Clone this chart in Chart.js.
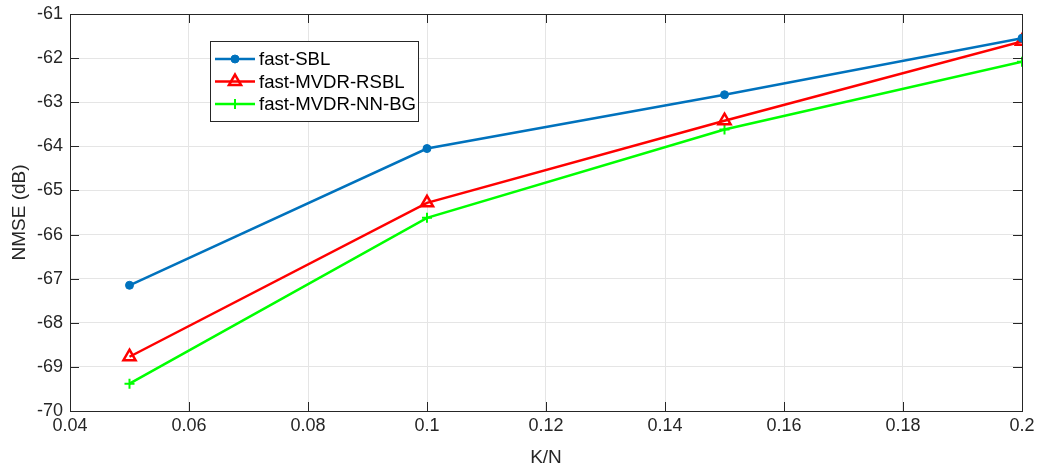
<!DOCTYPE html>
<html>
<head>
<meta charset="utf-8">
<script src="https://cdn.jsdelivr.net/npm/chart.js@4/dist/chart.umd.min.js"></script>
<style>
  html, body { margin: 0; padding: 0; background: #fff; }
  #wrap { width: 1039px; height: 469px; }
</style>
</head>
<body>
<div id="wrap"><canvas id="nmseChart" width="1039" height="469"></canvas></div>
<script>
  const kn = [0.05, 0.1, 0.15, 0.2];
  const fastSBL = [-67.15, -64.05, -62.83, -61.55];
  const fastMVDRRSBL = [-68.77, -65.28, -63.42, -61.62];
  const fastMVDRNNBG = [-69.38, -65.62, -63.62, -62.08];
  const xTicks = [0.04, 0.06, 0.08, 0.1, 0.12, 0.14, 0.16, 0.18, 0.2];
  const yTicks = [-70, -69, -68, -67, -66, -65, -64, -63, -62, -61];

  const FONT = "'Liberation Sans', Arial, Helvetica, sans-serif";
  const AXIS = "#262626";

  function pts(ys) {
    return kn.map((x, i) => ({ x: x, y: ys[i] }));
  }

  // box, inward ticks and legend drawn the MATLAB way
  const matlabFrame = {
    id: "matlabFrame",
    afterDatasetsDraw(chart) {
      const { ctx, chartArea: a, scales } = chart;
      ctx.save();
      ctx.strokeStyle = AXIS;
      ctx.lineWidth = 1;
      ctx.beginPath();
      xTicks.forEach((t) => {
        const px = Math.round(scales.x.getPixelForValue(t)) + 0.5;
        ctx.moveTo(px, a.bottom); ctx.lineTo(px, a.bottom - 9);
        ctx.moveTo(px, a.top); ctx.lineTo(px, a.top + 9);
      });
      yTicks.forEach((t) => {
        const py = Math.round(scales.y.getPixelForValue(t)) + 0.5;
        ctx.moveTo(a.left, py); ctx.lineTo(a.left + 9, py);
        ctx.moveTo(a.right, py); ctx.lineTo(a.right - 9, py);
      });
      ctx.stroke();
      ctx.strokeRect(Math.round(a.left) + 0.5, Math.round(a.top) + 0.5,
        Math.round(a.right - a.left), Math.round(a.bottom - a.top));

      // legend
      const lx = 210, ly = 41, lw = 208, lh = 80;
      ctx.fillStyle = "#fff";
      ctx.fillRect(lx, ly, lw, lh);
      ctx.strokeRect(lx + 0.5, ly + 0.5, lw, lh);
      ctx.font = "18.6px " + FONT;
      ctx.textBaseline = "middle";
      chart.data.datasets.forEach((ds, i) => {
        const y = ly + 18 + i * 22.5;
        ctx.strokeStyle = ds.borderColor;
        ctx.lineWidth = 2.5;
        ctx.beginPath();
        ctx.moveTo(lx + 5, y); ctx.lineTo(lx + 45, y);
        ctx.stroke();
        ctx.fillStyle = ds.pointBackgroundColor;
        ctx.strokeStyle = ds.borderColor;
        ctx.lineWidth = ds.pointBorderWidth;
        Chart.helpers.drawPoint(ctx, {
          pointStyle: ds.pointStyle,
          radius: ds.pointRadius,
          borderWidth: ds.pointBorderWidth,
          rotation: 0,
        }, lx + 25, y);
        ctx.fillStyle = "#000";
        ctx.fillText(ds.label, lx + 49, y + 1);
      });
      ctx.restore();
    },
  };

  new Chart(document.getElementById("nmseChart"), {
    type: "line",
    data: {
      datasets: [
        {
          label: "fast-SBL",
          data: pts(fastSBL),
          borderColor: "#0072BD",
          backgroundColor: "#0072BD",
          pointBackgroundColor: "#0072BD",
          pointStyle: "circle",
          pointRadius: 4,
          pointBorderWidth: 1,
          borderWidth: 2.5,
        },
        {
          label: "fast-MVDR-RSBL",
          data: pts(fastMVDRRSBL),
          borderColor: "#FF0000",
          backgroundColor: "#FF0000",
          pointBackgroundColor: "rgba(255,255,255,0)",
          pointStyle: "triangle",
          pointRadius: 7,
          pointBorderWidth: 2.5,
          borderWidth: 2.5,
        },
        {
          label: "fast-MVDR-NN-BG",
          data: pts(fastMVDRNNBG),
          borderColor: "#00FF00",
          backgroundColor: "#00FF00",
          pointBackgroundColor: "#00FF00",
          pointStyle: "cross",
          pointRadius: 5,
          pointBorderWidth: 2,
          borderWidth: 2.5,
        },
      ],
    },
    options: {
      responsive: false,
      animation: false,
      layout: { padding: { top: 14, right: 17, left: 0, bottom: 0 } },
      plugins: {
        legend: { display: false },
        tooltip: { enabled: false },
      },
      scales: {
        x: {
          type: "linear",
          min: 0.04,
          max: 0.2,
          afterBuildTicks: (s) => { s.ticks = xTicks.map((v) => ({ value: v })); },
          afterFit: (s) => { s.height = 58; s.paddingLeft = 0; s.paddingRight = 0; },
          ticks: {
            callback: (v) => String(Math.round(v * 100) / 100),
            color: AXIS,
            font: { family: FONT, size: 18 },
            padding: 4,
            maxRotation: 0,
          },
          grid: { color: "#e5e5e5", drawTicks: false },
          border: { display: false },
          title: {
            display: true,
            text: "K/N",
            color: AXIS,
            font: { family: FONT, size: 19 },
            padding: { top: 0, bottom: 0 },
          },
        },
        y: {
          min: -70,
          max: -61,
          afterBuildTicks: (s) => { s.ticks = yTicks.map((v) => ({ value: v })); },
          afterFit: (s) => { s.width = 70; s.paddingTop = 0; s.paddingBottom = 0; },
          ticks: {
            color: AXIS,
            font: { family: FONT, size: 18 },
            padding: 7,
          },
          grid: { color: "#e5e5e5", drawTicks: false },
          border: { display: false },
          title: {
            display: true,
            text: "NMSE (dB)",
            color: AXIS,
            font: { family: FONT, size: 19 },
            padding: { top: 8, bottom: 0 },
          },
        },
      },
    },
    plugins: [matlabFrame],
  });
</script>
</body>
</html>
